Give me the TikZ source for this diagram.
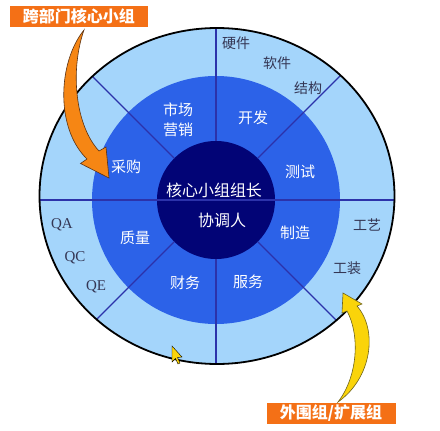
\documentclass[tikz,border=0pt]{standalone}
\usepackage{fontspec}
\setmainfont{Noto Sans CJK SC}
\newfontfamily\latinserif{Liberation Serif}
\definecolor{ringout}{RGB}{164,213,251}
\definecolor{ringmid}{RGB}{44,98,232}
\definecolor{ringin}{RGB}{2,4,118}
\definecolor{rayblue}{RGB}{44,50,170}
\definecolor{outtext}{RGB}{52,54,84}
\definecolor{tagorange}{RGB}{244,112,22}
\definecolor{arroworange}{RGB}{246,134,20}
\definecolor{arrowyellow}{RGB}{250,212,10}
\definecolor{edgebrown}{RGB}{90,50,20}
\definecolor{edgeolive}{RGB}{110,100,30}
\usetikzlibrary{positioning}

\begin{document}
\begin{tikzpicture}[x=1pt, y=-1pt,
  mid/.style={text=white, font=\fontsize{15}{20}\selectfont, align=center},
  hub/.style={text=white, font=\fontsize{16}{18}\selectfont},
  outr/.style={text=outtext, font=\fontsize{14}{15}\selectfont},
  qlbl/.style={text=outtext, font=\latinserif\fontsize{15}{16}\selectfont},
  tag/.style={fill=tagorange, text=white, font=\fontsize{16}{18}\selectfont\bfseries, minimum height=21pt, inner sep=0pt},
  ray/.style={draw=rayblue, line width=1.3pt}]
\useasboundingbox (0,0) rectangle (440,431);
% Rings
\fill[ringout] (217,196) ellipse [x radius=177.5, y radius=168];
\fill[ringmid] (216,200) circle [radius=124];
\fill[ringin] (216,200) circle [radius=59];
\begin{scope}
\clip (217,196) ellipse [x radius=177.5, y radius=168];
\foreach \a in {45,90,135,225,270,315}
  \draw[ray] (216,200) ++(\a:59) -- ++(\a:220);
\draw[ray] (30,200) -- (405,200);
\end{scope}
\draw[black, line width=1.8pt] (217,196) ellipse [x radius=177.5, y radius=168];
% Core group
\node[mid] (mkt) at (178,120) {市场\\营销};
\node[mid] (dev) at (253,118) {开发};
\node[mid] (test) at (300,172) {测试};
\node[mid] (mfg) at (295,233) {制造};
\node[mid] (svc) at (248,282) {服务};
\node[mid] (fin) at (185,283) {财务};
\node[mid] (qual) at (135,238) {质量};
\node[mid] (buy) at (126,167) {采购};
\node[hub] (lead) at (214,190) {核心小组组长};
\node[hub] (coord) at (222,220) {协调人};
% Outer group
\node[outr] (hw) at (236,43) {硬件};
\node[outr] (sw) at (277,63) {软件};
\node[outr] (frame) at (308,88) {结构};
\node[qlbl] (qa) at (62,225) {QA};
\node[qlbl] (qc) at (75,258) {QC};
\node[qlbl] (qe) at (96,287) {QE};
\node[outr] (proc) at (367,225) {工艺};
\node[outr] (tool) at (347,268) {工装};
% Tags
\node[tag, minimum width=138pt] (core) at (79,16) {跨部门核心小组};
\node[tag, minimum width=129pt] (ext) at (331,413) {外围组/扩展组};
% Arrows
\filldraw[fill=arroworange, draw=edgebrown, line width=0.6pt]
  (84,30) .. controls (58,62) and (55,128) .. (87,159) -- (80.5,163.5) -- (109,178)
  -- (106,147) -- (99,151) .. controls (75,125) and (70,70) .. (84,30) -- cycle;
\filldraw[fill=arrowyellow, draw=edgeolive, line width=0.6pt]
  (338,402) .. controls (372,378) and (378,330) .. (357,306) -- (362,304) -- (343,293)
  -- (342,313) -- (347,311) .. controls (360,335) and (358,376) .. (338,402) -- cycle;
% Cursor
\filldraw[fill=arrowyellow, draw=black, line width=0.4pt]
  (172,346) -- (172,362) -- (175.5,358.5) -- (178,364) -- (180,363) -- (177.5,357.5) -- (182,357) -- cycle;
\end{tikzpicture}
\end{document}
